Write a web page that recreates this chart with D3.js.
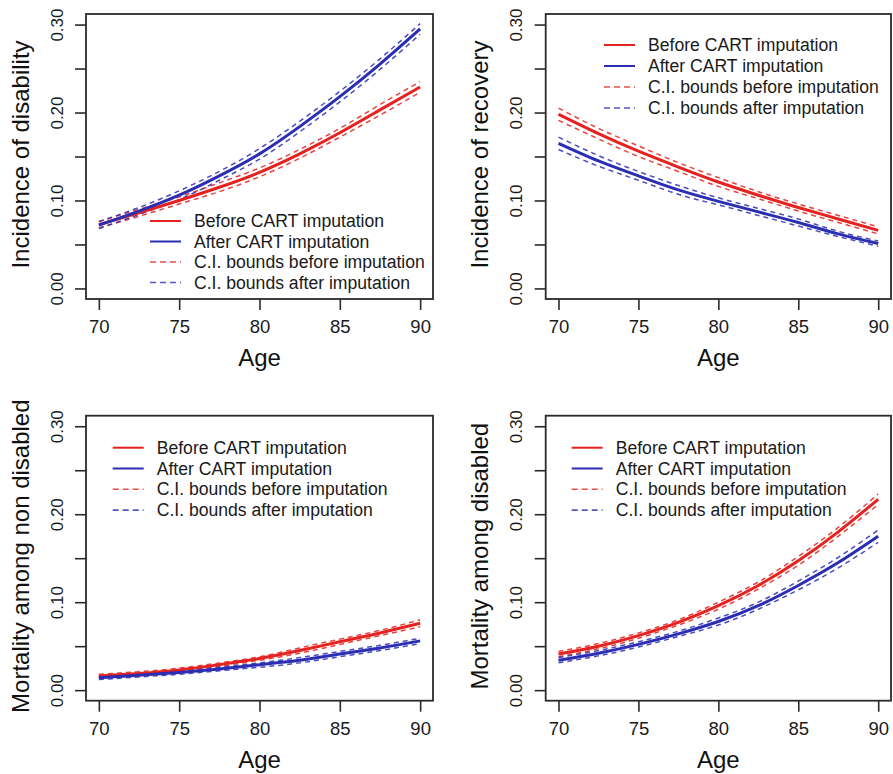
<!DOCTYPE html>
<html>
<head>
<meta charset="utf-8">
<script src="https://cdn.jsdelivr.net/npm/d3@7"></script>
<style>
  html, body { margin: 0; padding: 0; background: #fff; }
  svg { display: block; font-family: "Liberation Sans", Arial, Helvetica, sans-serif; }
</style>
</head>
<body>
<svg id="chart" width="893" height="774"></svg>
<script>
// Ages at which each fitted rate is given
const ages = [70, 72.5, 75, 77.5, 80, 82.5, 85, 87.5, 90];

// Incidence of disability
const disabBefore   = [0.0725, 0.086, 0.100, 0.115, 0.132, 0.153, 0.177, 0.203, 0.229];
const disabBeforeLo = [0.069, 0.082, 0.096, 0.110, 0.127, 0.148, 0.172, 0.197, 0.223];
const disabBeforeHi = [0.076, 0.090, 0.104, 0.120, 0.137, 0.158, 0.182, 0.209, 0.235];
const disabAfter    = [0.072, 0.088, 0.106, 0.128, 0.153, 0.184, 0.218, 0.255, 0.295];
const disabAfterLo  = [0.068, 0.084, 0.101, 0.123, 0.147, 0.178, 0.212, 0.249, 0.289];
const disabAfterHi  = [0.076, 0.092, 0.111, 0.133, 0.159, 0.190, 0.224, 0.261, 0.301];

// Incidence of recovery
const recovBefore   = [0.198, 0.176, 0.156, 0.138, 0.121, 0.106, 0.092, 0.079, 0.066];
const recovBeforeLo = [0.191, 0.170, 0.150, 0.133, 0.116, 0.102, 0.088, 0.075, 0.062];
const recovBeforeHi = [0.205, 0.182, 0.162, 0.143, 0.126, 0.110, 0.096, 0.083, 0.070];
const recovAfter    = [0.165, 0.145, 0.128, 0.112, 0.099, 0.087, 0.075, 0.062, 0.051];
const recovAfterLo  = [0.158, 0.139, 0.123, 0.107, 0.095, 0.083, 0.071, 0.059, 0.048];
const recovAfterHi  = [0.172, 0.151, 0.133, 0.117, 0.103, 0.091, 0.079, 0.065, 0.054];

// Mortality among non disabled
const mortNdBefore   = [0.016, 0.019, 0.023, 0.029, 0.036, 0.045, 0.055, 0.065, 0.076];
const mortNdBeforeLo = [0.014, 0.017, 0.021, 0.027, 0.034, 0.042, 0.052, 0.062, 0.072];
const mortNdBeforeHi = [0.018, 0.021, 0.025, 0.031, 0.038, 0.048, 0.058, 0.068, 0.080];
const mortNdAfter    = [0.014, 0.017, 0.020, 0.024, 0.029, 0.034, 0.041, 0.048, 0.056];
const mortNdAfterLo  = [0.012, 0.015, 0.018, 0.022, 0.026, 0.031, 0.038, 0.045, 0.053];
const mortNdAfterHi  = [0.016, 0.019, 0.022, 0.026, 0.031, 0.037, 0.044, 0.051, 0.059];

// Mortality among disabled
const mortDBefore   = [0.041, 0.050, 0.062, 0.077, 0.096, 0.119, 0.147, 0.180, 0.217];
const mortDBeforeLo = [0.038, 0.047, 0.059, 0.074, 0.092, 0.115, 0.142, 0.175, 0.211];
const mortDBeforeHi = [0.044, 0.053, 0.065, 0.080, 0.100, 0.123, 0.152, 0.185, 0.223];
const mortDAfter    = [0.034, 0.042, 0.052, 0.064, 0.078, 0.096, 0.119, 0.145, 0.175];
const mortDAfterLo  = [0.031, 0.039, 0.049, 0.061, 0.074, 0.092, 0.114, 0.139, 0.168];
const mortDAfterHi  = [0.037, 0.045, 0.055, 0.067, 0.082, 0.100, 0.124, 0.151, 0.182];

const yTitles = ["Incidence of disability", "Incidence of recovery",
                 "Mortality among non disabled", "Mortality among disabled"];
const xTitle = "Age";
const xTicks = [70, 75, 80, 85, 90];
const yTicks = [0.00, 0.05, 0.10, 0.15, 0.20, 0.25, 0.30];
const yTickLabels = ["0.00", "", "0.10", "", "0.20", "", "0.30"];
const legendLabels = ["Before CART imputation", "After CART imputation",
                      "C.I. bounds before imputation", "C.I. bounds after imputation"];

const panelSeries = [
  [disabBefore, disabBeforeLo, disabBeforeHi, disabAfter, disabAfterLo, disabAfterHi],
  [recovBefore, recovBeforeLo, recovBeforeHi, recovAfter, recovAfterLo, recovAfterHi],
  [mortNdBefore, mortNdBeforeLo, mortNdBeforeHi, mortNdAfter, mortNdAfterLo, mortNdAfterHi],
  [mortDBefore, mortDBeforeLo, mortDBeforeHi, mortDAfter, mortDAfterLo, mortDAfterHi]
];

// Plot frames and legend anchors for each of the four panels
const layout = [
  { x0: 86,    x1: 433, y0: 14,    y1: 299,   lgX: 150,   lgY: 221,   lgStep: 20.5 },
  { x0: 545.7, x1: 891, y0: 14,    y1: 299,   lgX: 604,   lgY: 45,    lgStep: 21 },
  { x0: 86,    x1: 433, y0: 415.7, y1: 700.7, lgX: 112.7, lgY: 447.7, lgStep: 20.8 },
  { x0: 545.7, x1: 891, y0: 415.7, y1: 700.7, lgX: 571.7, lgY: 447.7, lgStep: 20.8 }
];

const RED = "#e4221f";
const BLUE = "#2b2db3";
const AXIS = "#2a2a2a";

const svg = d3.select("#chart");

layout.forEach((L, i) => {
  // R-style 4% padding around the data range
  const x = d3.scaleLinear().domain([69.2, 90.8]).range([L.x0, L.x1]);
  const y = d3.scaleLinear().domain([-0.012, 0.312]).range([L.y1, L.y0]);
  const g = svg.append("g");

  const line = (vals) => d3.line()
    .x((d, k) => x(ages[k]))
    .y(d => y(d))
    .curve(d3.curveNatural)(vals);

  const [bef, befLo, befHi, aft, aftLo, aftHi] = panelSeries[i];

  // confidence bounds (dashed)
  [[befLo, RED], [befHi, RED], [aftLo, BLUE], [aftHi, BLUE]].forEach(([vals, c]) => {
    g.append("path").attr("d", line(vals))
      .attr("fill", "none").attr("stroke", c).attr("stroke-width", 1.5)
      .attr("stroke-dasharray", "5,4").attr("opacity", 0.85);
  });
  // fitted curves (solid)
  [[bef, RED], [aft, BLUE]].forEach(([vals, c]) => {
    g.append("path").attr("d", line(vals))
      .attr("fill", "none").attr("stroke", c).attr("stroke-width", 3);
  });

  // frame
  g.append("rect")
    .attr("x", L.x0).attr("y", L.y0)
    .attr("width", L.x1 - L.x0).attr("height", L.y1 - L.y0)
    .attr("fill", "none").attr("stroke", AXIS).attr("stroke-width", 1.8);

  // x axis
  const xa = g.append("g").attr("transform", `translate(0,${L.y1})`)
    .call(d3.axisBottom(x).tickValues(xTicks).tickSize(11).tickPadding(6)
      .tickFormat(d3.format("d")));
  xa.select(".domain").remove();
  xa.selectAll("line").attr("stroke", AXIS).attr("stroke-width", 1.6);
  xa.selectAll("text").attr("font-size", 18.5).attr("fill", "#1a1a1a")
    .attr("font-family", "Liberation Sans, Arial, sans-serif")
    .attr("dy", null).attr("y", 34);

  // y axis
  const ya = g.append("g").attr("transform", `translate(${L.x0},0)`)
    .call(d3.axisLeft(y).tickValues(yTicks).tickSize(11)
      .tickFormat((d, k) => yTickLabels[k]));
  ya.select(".domain").remove();
  ya.selectAll("line").attr("stroke", AXIS).attr("stroke-width", 1.6);
  ya.selectAll("text")
    .attr("font-size", 17).attr("fill", "#1a1a1a")
    .attr("font-family", "Liberation Sans, Arial, sans-serif")
    .attr("x", null).attr("dy", null)
    .attr("text-anchor", "middle")
    .attr("dominant-baseline", "central")
    .attr("transform", "translate(-29,0) rotate(-90)");

  // axis titles
  g.append("text")
    .attr("x", (L.x0 + L.x1) / 2).attr("y", L.y1 + 67)
    .attr("text-anchor", "middle").attr("font-size", 24).attr("fill", "#111")
    .text(xTitle);
  g.append("text")
    .attr("transform", `translate(${L.x0 - 66},${(L.y0 + L.y1) / 2 - 2}) rotate(-90)`)
    .attr("text-anchor", "middle").attr("dominant-baseline", "central")
    .attr("font-size", 24).attr("fill", "#111")
    .text(yTitles[i]);

  // legend
  const styles = [
    { c: RED, dash: null, w: 2 },
    { c: BLUE, dash: null, w: 2 },
    { c: RED, dash: "6,4", w: 1.6 },
    { c: BLUE, dash: "6,4", w: 1.6 }
  ];
  const lg = g.append("g");
  legendLabels.forEach((lab, k) => {
    const yy = L.lgY + k * L.lgStep;
    lg.append("line")
      .attr("x1", L.lgX).attr("x2", L.lgX + 31)
      .attr("y1", yy).attr("y2", yy)
      .attr("stroke", styles[k].c).attr("stroke-width", styles[k].w)
      .attr("stroke-dasharray", styles[k].dash)
      .attr("opacity", styles[k].dash ? 0.8 : 1);
    lg.append("text")
      .attr("x", L.lgX + 44).attr("y", yy)
      .attr("dominant-baseline", "central")
      .attr("font-size", 17.6).attr("fill", "#1a1a1a")
      .text(lab);
  });
});
</script>
</body>
</html>
